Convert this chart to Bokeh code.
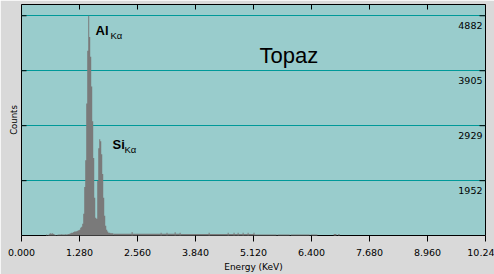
import math
from bokeh.plotting import figure
from bokeh.models import LinearAxis, FixedTicker, Range1d, ColumnDataSource, Grid
from bokeh.core.properties import value
from bokeh.embed import file_html
from bokeh.resources import INLINE

# ---- axis ticks ----
x_tick_values = [0.0, 1.28, 2.56, 3.84, 5.12, 6.40, 7.68, 8.96, 10.24]
x_tick_labels = ["0.000", "1.280", "2.560", "3.840", "5.120", "6.400", "7.680", "8.960", "10.24"]
y_tick_values = [1952, 2929, 3905, 4882]
y_tick_labels = ["1952", "2929", "3905", "4882"]
x_min, x_max = 0.0, 10.24
y_min, y_max = 978, 5082

# ---- spectrum: fine channels around the peaks ----
first_bin_kev = 0.50
bin_width_kev = 0.0221
fine_counts = [
    960, 960, 994, 980, 990, 1011, 1020, 1011, 1020, 1005,
    994, 985, 980, 990, 994, 994, 994, 1000, 994, 994,
    994, 1000, 994, 1000, 1005, 1011, 1020, 1029, 1029, 1040,
    1047, 1047, 1055, 1064, 1070, 1082, 1117, 1135, 1188, 1364,
    1841, 2317, 3323, 4259, 4882, 4506, 4153, 3624, 3006, 2353,
    1647, 1294, 1276, 1947, 2529, 2688, 2653, 2423, 2070, 1647,
    1329, 1153, 1082, 1047, 1029, 1029, 1020, 1020, 1020,
]

# ---- spectrum: background continuum (coarse segments) ----
bg_start_kev = [2.025, 3.51, 5.14, 5.65, 5.94, 6.38, 6.89, 6.99]
bg_end_kev = [3.51, 5.14, 5.63, 5.92, 6.36, 6.53, 6.95, 7.02]
bg_counts = [1011, 1003, 994, 994, 994, 994, 1003, 1003]

# ---- small isolated spikes in the background ----
blip_kev = [2.43, 3.07, 3.20, 3.38, 3.49, 4.13, 4.55, 4.68, 4.77, 4.88, 4.99, 5.12]
blip_counts = [1040, 1029, 1029, 1035, 1029, 1029, 1029, 1029, 1029, 1029, 1029, 1029]

# ---- annotations ----
peak_names = ["Al", "Si"]
peak_label_kev = [1.633, 2.008]
peak_label_counts = [4622, 2588]
sub_names = ["K\u03b1", "K\u03b1"]
sub_label_kev = [1.964, 2.273]
sub_label_counts = [4534, 2499]
title_text = ["Topaz"]
title_kev = [5.252]
title_counts = [4180]

BG = "#D9D9D9"
PLOT_BG = "#99CCCC"
GRID = "#009999"
SPEC = "#7A7A7A"
FONT = "DejaVu Sans"

p = figure(
    width=494, height=274,
    x_range=Range1d(x_min, x_max), y_range=Range1d(y_min, y_max),
    output_backend="svg", toolbar_location=None,
    y_axis_location=None,
    min_border_left=21, min_border_right=9, min_border_top=4, min_border_bottom=38,
)
p.background_fill_color = PLOT_BG
p.border_fill_color = BG
p.outline_line_color = "black"
p.outline_line_width = 1
# drop the default grids, then add our own horizontal grid
p.xgrid.visible = False
p.ygrid.visible = False
p.add_layout(Grid(dimension=1, ticker=FixedTicker(ticks=y_tick_values),
                  grid_line_color=GRID, grid_line_width=1))

# bottom axis
xa = p.xaxis[0]
xa.ticker = FixedTicker(ticks=x_tick_values)
xa.major_label_overrides = {v: s for v, s in zip(x_tick_values, x_tick_labels)}
xa.axis_line_color = None
xa.major_tick_in = 0
xa.major_tick_out = 6
xa.major_tick_line_color = "black"
xa.minor_tick_line_color = None
xa.major_label_text_font = FONT
xa.major_label_text_font_size = "9.5px"
xa.major_label_text_color = "black"
xa.major_label_standoff = 7
xa.axis_label = "Energy (KeV)"
xa.axis_label_text_font = FONT
xa.axis_label_text_font_size = "9px"
xa.axis_label_text_font_style = "normal"
xa.axis_label_text_color = "black"
xa.axis_label_standoff = 3

# left axis: only the "Counts" title
ya = LinearAxis(ticker=FixedTicker(ticks=[]))
ya.axis_line_color = None
ya.major_tick_line_color = None
ya.minor_tick_line_color = None
ya.axis_label = "Counts"
ya.axis_label_text_font = FONT
ya.axis_label_text_font_size = "8.5px"
ya.axis_label_text_font_style = "normal"
ya.axis_label_text_color = "black"
ya.axis_label_standoff = 3
p.add_layout(ya, "left")

# background continuum and spikes as bars
left2, right2, top2 = [], [], []
for s, e, c in zip(bg_start_kev, bg_end_kev, bg_counts):
    left2.append(s); right2.append(e); top2.append(c)
for k, c in zip(blip_kev, blip_counts):
    left2.append(k); right2.append(k + bin_width_kev); top2.append(c)
src_bg = ColumnDataSource(dict(left=left2, right=right2, top=top2, bottom=[0] * len(top2)))
p.quad(left="left", right="right", top="top", bottom="bottom", source=src_bg,
       fill_color=SPEC, line_color=None)

# fine channels as one seamless step area
edges = [first_bin_kev + i * bin_width_kev for i in range(len(fine_counts) + 1)]
step_counts = fine_counts + [fine_counts[-1]]
src_fine = ColumnDataSource(dict(x=edges, y1=[0] * len(edges), y2=step_counts))
p.varea_step(x="x", y1="y1", y2="y2", step_mode="after", source=src_fine,
             fill_color=SPEC)

# inward tick marks on left, right (clipped to the frame -> half length shows)
n_y = len(y_tick_values)
p.scatter(x=[x_min] * n_y, y=y_tick_values, marker="dash", size=10,
          line_color="black", line_width=1)
p.scatter(x=[x_max] * n_y, y=y_tick_values, marker="dash", size=12,
          line_color="black", line_width=1)
# inward tick marks on top
p.scatter(x=x_tick_values, y=[y_max] * len(x_tick_values), marker="dash", size=10,
          angle=math.pi / 2, line_color="black", line_width=1)

# right-side tick labels inside the plot
p.text(x=[x_max] * n_y, y=y_tick_values, text=y_tick_labels,
       text_font=value(FONT), text_font_size="9.5px", text_color="black",
       text_align="right", text_baseline="alphabetic", x_offset=-3, y_offset=10)

# peak labels
p.text(x=peak_label_kev, y=peak_label_counts, text=peak_names,
       text_font=value("Liberation Sans"), text_font_size="13px", text_font_style="bold",
       text_color="black", text_align="left", text_baseline="alphabetic")
p.text(x=sub_label_kev, y=sub_label_counts, text=sub_names,
       text_font=value("Liberation Sans"), text_font_size="9.5px",
       text_color="black", text_align="left", text_baseline="alphabetic")

# title inside plot
p.text(x=title_kev, y=title_counts, text=title_text,
       text_font=value("Liberation Sans"), text_font_size="22px",
       text_color="black", text_align="left", text_baseline="alphabetic")

open("out.html", "w").write(file_html(p, INLINE))
